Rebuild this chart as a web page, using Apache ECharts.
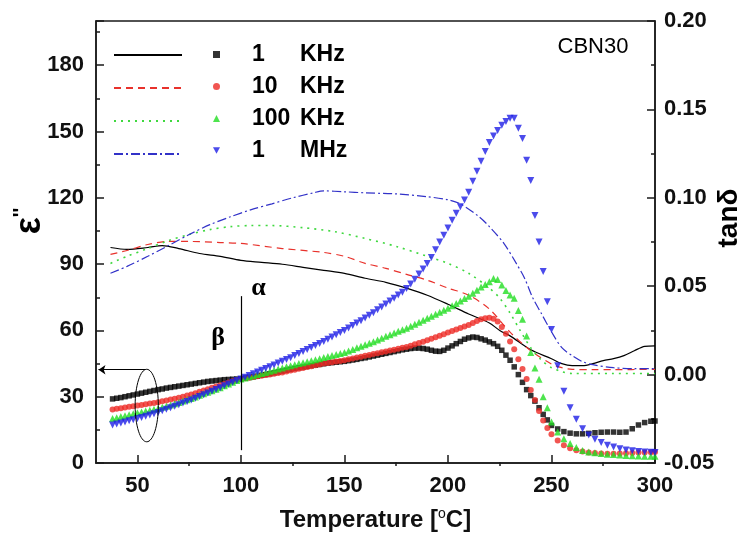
<!DOCTYPE html>
<html><head><meta charset="utf-8">
<script src="https://cdn.jsdelivr.net/npm/echarts@6/dist/echarts.min.js"></script>
<style>html,body{margin:0;padding:0;background:#fff}#c{width:744px;height:537px}</style>
</head><body><div id="c"></div>
<script>
// ---- temperatures of the scatter (epsilon'') data ----
const tS = [38,40,42,44,46,48,50,52,54,56,58,60,62,64,66,68,70,72,74,76,78,80,82,84,86,88,90,92,94,96,98,100,
102,104,106,108,110,112,114,116,118,120,122,124,126,128,130,132,134,136,138,140,142,144,146,148,150,
152,154,156,158,160,162,164,166,168,170,172,174,176,178,180,182,184,186,188,190,192,194,196,198,200,
202,204,206,208,210,212,214,216,218,220,222,224,226,228,230,232,234,236,238,240,242,244,246,248,250,
253,256,259,262,265,268,271,274,277,280,283,286,289,292,295,298,300];

// epsilon'' (left axis), scatter markers
const eps1k = [29.0,29.3,29.6,30.0,30.4,30.8,31.2,31.6,32.0,32.4,32.8,33.2,33.5,33.9,34.2,34.5,34.8,35.1,35.4,35.7,36.0,36.3,36.6,36.9,37.1,37.3,37.5,37.7,37.8,37.9,38.0,38.1,
38.4,38.7,39.0,39.3,39.7,40.0,40.4,40.8,41.2,41.6,42.0,42.4,42.8,43.1,43.4,43.7,44.0,44.3,44.6,44.9,45.2,45.4,45.6,45.8,46.0,
46.3,46.6,46.9,47.3,47.6,48.0,48.4,48.8,49.2,49.6,50.0,50.4,50.8,51.2,51.5,51.8,52.0,52.0,51.8,51.5,51.0,50.6,50.5,51.0,52.0,
53.0,54.0,55.0,56.0,56.6,57.0,56.8,56.2,55.6,54.8,54.0,52.8,51.0,48.8,46.5,43.5,40.0,36.5,33.2,30.5,28.0,25.0,22.0,19.5,17.0,
15.4,14.2,13.5,13.2,13.2,13.4,13.7,13.9,14.0,14.0,13.9,14.0,15.5,17.2,18.3,18.9,19.0];
const eps10k = [24.2,24.5,24.8,25.1,25.4,25.7,26.0,26.3,26.6,26.9,27.2,27.5,27.9,28.3,28.7,29.1,29.5,30.0,30.5,31.0,31.6,32.2,32.8,33.4,34.0,34.6,35.2,35.8,36.4,37.0,37.5,38.0,
38.3,38.6,38.9,39.2,39.5,39.8,40.1,40.4,40.7,41.0,41.4,41.8,42.2,42.6,43.0,43.4,43.8,44.2,44.6,45.0,45.3,45.6,45.9,46.2,46.5,
46.9,47.3,47.7,48.1,48.5,48.9,49.3,49.7,50.1,50.5,50.9,51.3,51.7,52.1,52.5,53.1,53.7,54.3,54.9,55.5,56.2,56.9,57.6,58.3,59.0,
59.7,60.4,61.1,61.8,62.5,63.4,64.3,65.0,65.5,65.7,65.3,64.0,61.5,58.5,55.0,51.5,47.0,42.5,38.0,33.0,28.5,23.5,19.2,15.8,13.0,
10.2,8.0,6.7,5.8,5.2,4.8,4.5,4.3,4.2,4.2,4.3,4.4,4.5,4.7,4.8,4.9,5.0];
const eps100k = [20.1,20.5,21.0,21.4,21.8,22.3,22.7,23.1,23.5,23.9,24.3,24.7,25.2,25.7,26.2,26.8,27.4,28.0,28.6,29.2,29.9,30.6,31.3,32.0,32.7,33.4,34.1,34.9,35.7,36.5,37.3,38.0,
38.5,39.0,39.5,40.0,40.5,41.0,41.5,42.0,42.5,43.0,43.5,44.0,44.5,45.0,45.4,45.8,46.3,46.7,47.2,47.7,48.2,48.6,49.1,49.5,50.0,
50.7,51.4,52.1,52.8,53.5,54.2,54.9,55.7,56.5,57.3,58.0,58.8,59.6,60.3,61.0,61.9,62.8,63.7,64.6,65.5,66.4,67.3,68.2,69.1,70.0,
71.1,72.2,73.3,74.4,75.5,76.8,78.2,79.6,80.8,82.0,83.5,83.0,80.5,78.0,76.0,74.5,69.0,65.0,57.5,50.0,43.0,37.9,30.0,25.0,18.5,
14.0,11.0,8.8,7.0,5.6,5.0,4.6,4.3,4.0,3.8,3.6,3.4,3.3,3.2,3.1,3.0,3.0];
const eps1M = [17.2,17.6,18.1,18.6,19.1,19.6,20.1,20.6,21.1,21.7,22.3,22.9,23.6,24.3,25.0,25.7,26.4,27.1,27.8,28.5,29.3,30.1,30.9,31.7,32.5,33.3,34.1,34.9,35.7,36.5,37.3,38.0,
38.8,39.6,40.4,41.2,42.0,42.8,43.6,44.4,45.2,46.0,46.8,47.6,48.6,49.6,50.5,51.4,52.3,53.2,54.1,55.0,56.0,57.0,58.0,59.0,60.0,
61.1,62.2,63.3,64.4,65.6,66.8,68.0,69.3,70.6,72.0,73.3,74.6,76.0,77.3,79.0,81.0,83.2,85.5,87.8,90.3,93.0,96.5,100.0,103.0,106.3,
109.8,113.0,116.0,119.0,122.5,127.5,132.0,136.5,141.0,145.0,148.0,150.5,152.8,154.5,156.0,156.0,151.5,146.8,137.0,127.8,112.0,100.0,86.6,73.0,60.4,
44.0,32.5,25.0,19.8,15.5,12.7,10.7,9.3,8.0,7.2,6.5,5.9,5.5,5.2,5.0,4.9,4.8];

// tan delta (right axis), lines
const tL1k = [37,45,55,62,70,80,90,100,110,120,130,140,150,160,170,180,190,200,210,220,225,230,240,250,255,260,265,270,275,280,285,290,295,300];
const tan1k = [0.0719,0.0708,0.0719,0.0730,0.0713,0.0685,0.0669,0.0646,0.0635,0.0624,0.0607,0.0590,0.0573,0.0545,0.0522,0.0489,0.0449,0.0398,0.0343,0.0292,0.0250,0.0219,0.0140,0.0090,0.0062,0.0051,0.0051,0.0062,0.0079,0.0090,0.0107,0.0135,0.0160,0.0163];
const tL10k = [37,45,55,65,75,90,100,120,140,150,160,170,180,190,200,210,220,230,240,250,255,260,270,280,300];
const tan10k = [0.0680,0.0702,0.0736,0.0753,0.0753,0.0747,0.0742,0.0713,0.0691,0.0669,0.0629,0.0601,0.0567,0.0534,0.0489,0.0449,0.0371,0.0240,0.0135,0.0060,0.0039,0.0030,0.0028,0.0028,0.0030];
const tL100k = [37,45,55,65,75,85,95,105,115,130,145,160,175,190,200,210,220,225,230,235,240,245,250,255,260,280,300];
const tan100k = [0.0629,0.0669,0.0713,0.0758,0.0792,0.0820,0.0837,0.0843,0.0843,0.0831,0.0809,0.0770,0.0725,0.0669,0.0629,0.0573,0.0489,0.0433,0.0348,0.0247,0.0152,0.0084,0.0039,0.0017,0.0006,0.0006,0.0006];
const tL1M = [37,45,55,65,75,85,95,105,115,125,135,140,150,160,175,190,200,206,215,220,227,233,237,241,245,250,255,260,265,270,280,290,300];
const tan1M = [0.0573,0.0612,0.0669,0.0730,0.0792,0.0848,0.0893,0.0933,0.0966,0.1000,0.1028,0.1039,0.1034,0.1028,0.1022,0.1006,0.0989,0.0966,0.0893,0.0837,0.0742,0.0629,0.0545,0.0433,0.0348,0.0242,0.0152,0.0107,0.0073,0.0056,0.0039,0.0034,0.0034];

const names = ['1 KHz','10 KHz','100 KHz','1 MHz'];
const xTicks = [50,100,150,200,250,300];
const xMinor = [75,125,175,225,275];

const F = '"Liberation Sans", Arial, sans-serif';
const FS = '"Liberation Serif", "Times New Roman", serif';
const AX = '#1a1a1a';
const pairs = (xs, ys) => xs.map((x, i) => [x, ys[i]]);

const chart = echarts.init(document.getElementById('c'));

const tok = {fontSize: 23, fontWeight: 'bold', fontFamily: F, color: '#000', lineHeight: 24};
const legendRich = {
  g: Object.assign({}, tok, {width: 27}),
  n: Object.assign({}, tok, {width: 48}),
  u: tok
};
const downTri = 'path://M0,0 L10,0 L5,9 Z';

const option = {
  animation: false,
  backgroundColor: '#fff',
  grid: {left: 96, right: 89, top: 21, bottom: 71, show: true, borderColor: AX, borderWidth: 1.5, backgroundColor: 'transparent'},
  legend: [
    {data: ['L1','L2','L3','L4'], orient: 'vertical', left: 108, top: 38, itemWidth: 68, itemHeight: 7, itemGap: 9,
     selectedMode: false, itemStyle: {opacity: 0}, formatter: () => ' ', textStyle: {fontSize: 23, lineHeight: 24, fontFamily: F}},
    {data: [{name: names[0]}, {name: names[1]}, {name: names[2]}, {name: names[3], icon: downTri}],
     orient: 'vertical', left: 208, top: 38, itemWidth: 7, itemHeight: 7, itemGap: 9, selectedMode: false,
     formatter: (n) => { const p = n.split(' '); return '{g| }{n|' + p[0] + '}{u|' + p[1] + '}'; },
     textStyle: {rich: legendRich, fontSize: 23, fontFamily: F}}
  ],
  xAxis: [
    {type: 'value', min: 30, max: 300, position: 'bottom',
     axisLine: {lineStyle: {color: AX, width: 1.5}},
     axisTick: {inside: true, length: 8, customValues: xTicks, lineStyle: {color: AX, width: 1.5}},
     axisLabel: {customValues: xTicks, fontSize: 22, fontWeight: 'bold', color: '#111', fontFamily: F, margin: 12},
     splitLine: {show: false},
     name: 'Temperature [{s|o}C]', nameLocation: 'middle', nameGap: 44,
     nameTextStyle: {fontSize: 24, fontWeight: 'bold', color: '#111', fontFamily: F,
       rich: {s: {fontSize: 14, fontWeight: 'normal', color: '#111', fontFamily: F, verticalAlign: 'top', lineHeight: 26}}}},
    {type: 'value', min: 30, max: 300, position: 'top', offset: -445,
     axisLine: {show: false},
     axisTick: {inside: false, length: 4, customValues: xMinor, lineStyle: {color: AX, width: 1.5}},
     axisLabel: {show: false}, splitLine: {show: false}}
  ],
  yAxis: [
    {type: 'value', min: 0, max: 200, interval: 30, position: 'left',
     axisLine: {show: true, lineStyle: {color: AX, width: 1.5}},
     axisTick: {inside: true, length: 8, lineStyle: {color: AX, width: 1.5}},
     minorTick: {show: true, splitNumber: 2, length: 4, lineStyle: {color: AX, width: 1.5}},
     axisLabel: {showMaxLabel: false, fontSize: 22, fontWeight: 'bold', color: '#111', fontFamily: F, margin: 12},
     splitLine: {show: false}},
    {type: 'value', min: -0.05, max: 0.20, interval: 0.05, position: 'right',
     axisLine: {show: true, lineStyle: {color: AX, width: 1.5}},
     axisTick: {inside: true, length: 8, lineStyle: {color: AX, width: 1.5}},
     minorTick: {show: true, splitNumber: 2, length: 4, lineStyle: {color: AX, width: 1.5}},
     axisLabel: {formatter: v => v.toFixed(2), fontSize: 22, fontWeight: 'bold', color: '#111', fontFamily: F, margin: 9},
     splitLine: {show: false}}
  ],
  series: [
    {name: 'L1', type: 'line', yAxisIndex: 1, symbol: 'none', smooth: 0.3, data: pairs(tL1k, tan1k),
     lineStyle: {color: '#000', width: 1.2, type: 'solid'}, itemStyle: {color: '#000'}, z: 2},
    {name: 'L2', type: 'line', yAxisIndex: 1, symbol: 'none', smooth: 0.3, data: pairs(tL10k, tan10k),
     lineStyle: {color: '#e8322c', width: 1.2, type: [7, 5]}, itemStyle: {color: '#e8322c'}, z: 2},
    {name: 'L3', type: 'line', yAxisIndex: 1, symbol: 'none', smooth: 0.3, data: pairs(tL100k, tan100k),
     lineStyle: {color: '#3fd83f', width: 1.6, type: [2, 5]}, itemStyle: {color: '#3fd83f'}, z: 2},
    {name: 'L4', type: 'line', yAxisIndex: 1, symbol: 'none', smooth: 0.3, data: pairs(tL1M, tan1M),
     lineStyle: {color: '#3232c8', width: 1.2, type: [9, 3, 2, 3]}, itemStyle: {color: '#3232c8'}, z: 2},
    {name: names[0], type: 'scatter', yAxisIndex: 0, symbol: 'rect', symbolSize: 5.5, data: pairs(tS, eps1k),
     itemStyle: {color: '#000'}, z: 3,
     markLine: {silent: true, animation: false, symbol: ['none', 'none'], symbolSize: 7, label: {show: false},
       lineStyle: {color: '#000', width: 1.2, type: 'solid'},
       data: [
         [{coord: [100, 75.5]}, {coord: [100, 5.8]}],
         [{coord: [54, 42.2], symbol: 'none'}, {coord: [31.2, 42.2], symbol: 'arrow'}]
       ]}},
    {name: names[1], type: 'scatter', yAxisIndex: 0, symbol: 'circle', symbolSize: 6, data: pairs(tS, eps10k),
     itemStyle: {color: '#ee2b26'}, z: 3},
    {name: names[2], type: 'scatter', yAxisIndex: 0, symbol: 'triangle', symbolSize: 7, data: pairs(tS, eps100k),
     itemStyle: {color: '#22dd22'}, z: 3},
    {name: names[3], type: 'scatter', yAxisIndex: 0, symbol: 'triangle', symbolRotate: 180, symbolSize: 7, data: pairs(tS, eps1M),
     itemStyle: {color: '#1e1ee6'}, z: 3}
  ]
};
chart.setOption(option);

// annotations placed through the axes' scales
const px = (t, e) => chart.convertToPixel({xAxisIndex: 0, yAxisIndex: 0}, [t, e]);
const ellC = px(54.5, 26), ellR = px(60.1, 26), ellT = px(54.5, 42.4);
const pBeta = px(89, 56.6), pAlpha = px(108.5, 79);
chart.setOption({
  graphic: [
    {type: 'ellipse', shape: {cx: ellC[0], cy: ellC[1], rx: ellR[0] - ellC[0], ry: ellC[1] - ellT[1]},
     style: {fill: 'none', stroke: '#000', lineWidth: 1}, z: 10},
    {type: 'text', x: pBeta[0], y: pBeta[1], style: {text: 'β', font: 'bold 26px ' + FS, fill: '#000', align: 'center', verticalAlign: 'middle'}, z: 10},
    {type: 'text', x: pAlpha[0], y: pAlpha[1], style: {text: 'α', font: 'bold 26px ' + FS, fill: '#000', align: 'center', verticalAlign: 'middle'}, z: 10},
    {type: 'text', x: 593, y: 47, style: {text: 'CBN30', font: '22px ' + F, fill: '#000', align: 'center', verticalAlign: 'middle'}, z: 10},
    {type: 'text', x: 30, y: 221, rotation: Math.PI / 2,
     style: {text: '{e|ε}{p|\'\'}', align: 'center', verticalAlign: 'middle',
       rich: {e: {font: 'bold 36px ' + F, fill: '#000', lineHeight: 38},
              p: {font: 'bold 20px ' + F, fill: '#000', verticalAlign: 'top', lineHeight: 22}}}, z: 10},
    {type: 'text', x: 729, y: 218, rotation: Math.PI / 2,
     style: {text: 'tanδ', font: 'bold 28px ' + F, fill: '#000', align: 'center', verticalAlign: 'middle'}, z: 10}
  ]
});
</script>
</body></html>
